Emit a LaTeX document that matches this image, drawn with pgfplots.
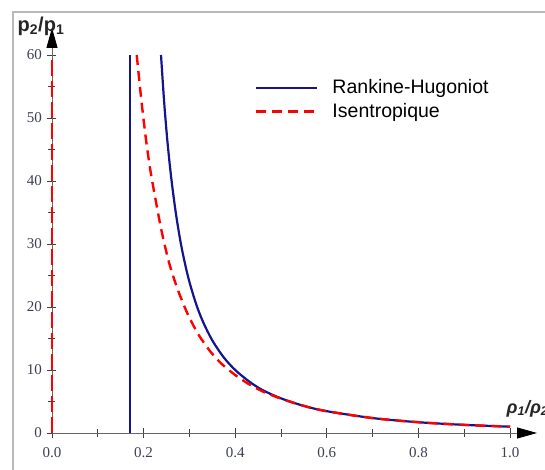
\documentclass[border=0pt]{standalone}
\usepackage{fontspec}
\setmainfont{Liberation Serif}
\setsansfont{Liberation Sans}
\usepackage{pgfplots}
\pgfplotsset{compat=1.18}
\usetikzlibrary{arrows.meta}
\definecolor{rhblue}{RGB}{20,20,140}
\definecolor{tickgray}{RGB}{60,64,80}

\begin{document}
\begin{tikzpicture}
  \draw[gray!55, line width=1.2pt] (-39pt,-80pt) rectangle (580pt,421pt);
  \begin{axis}[
      at={(0,0)}, anchor=origin,
      x=458pt, y=6.3pt,
      xmin=0, xmax=1.059,
      ymin=0, ymax=64.3,
      axis lines=middle,
      axis line style={draw=gray!80!black, line width=0.8pt},
      x axis line style={-{Triangle[length=20pt,width=11pt,color=black]}},
      y axis line style={-{Triangle[length=20pt,width=11pt,color=black]}},
      hide obscured x ticks=false,
      hide obscured y ticks=false,
      xtick={0,0.2,0.4,0.6,0.8,1.0},
      minor xtick={0.1,0.3,0.5,0.7,0.9},
      ytick={0,10,20,30,40,50,60},
      minor ytick={5,15,25,35,45,55},
      tick align=center,
      major tick length=9pt,
      minor tick length=7pt,
      every tick/.style={black!75, line width=0.8pt},
      xticklabel style={/pgf/number format/.cd, fixed, fixed zerofill, precision=1, /tikz/.cd, yshift=-6pt},
      yticklabel style={xshift=-2pt},
      /pgf/number format/assume math mode=true,
      tick label style={font=\fontsize{15}{17}\selectfont, text=tickgray},
      clip=false,
      legend style={at={(axis cs:0.443,56.4)}, anchor=north west, draw=none, fill=none,
        inner sep=0pt, font=\sffamily\fontsize{19.5}{22}\selectfont, row sep=4pt,
        /tikz/every odd column/.append style={column sep=12pt}},
      legend cell align=left,
      legend image code/.code={\draw[#1] (0pt,0pt) -- (61pt,0pt);},
    ]
    \addplot[rhblue, line width=2.2pt, smooth, tension=0.5] coordinates {
      (0.238,60) (0.245,52.4) (0.252,46.3) (0.26,40.7) (0.27,35.1) (0.28,30.6)
      (0.29,27.0) (0.30,24.0) (0.315,20.4) (0.33,17.6) (0.35,14.7) (0.375,12.0)
      (0.40,10.0) (0.43,8.2) (0.46,6.8) (0.50,5.5) (0.55,4.3) (0.60,3.46)
      (0.70,2.37) (0.80,1.71) (0.90,1.29) (1.0,1.0)
    };
    \addlegendentry{Rankine-Hugoniot}
    \addplot[red, line width=2.4pt, dash pattern=on 10pt off 6pt, smooth, tension=0.5] coordinates {
      (0.185,60) (0.195,52.9) (0.205,46.7) (0.215,41.6) (0.228,36.3) (0.24,31.8)
      (0.255,27.2) (0.27,23.7) (0.285,20.8) (0.30,18.3) (0.32,15.6) (0.345,13.0)
      (0.37,11.0) (0.40,9.2) (0.43,7.75) (0.46,6.6) (0.50,5.45) (0.55,4.3)
      (0.60,3.46) (0.70,2.37) (0.80,1.71) (0.90,1.29) (1.0,1.0)
    };
    \addlegendentry{Isentropique}
    \addplot[rhblue, line width=2.4pt, forget plot] coordinates {(0.170,0) (0.170,60)};
    \addplot[red, line width=2.4pt, dash pattern=on 16pt off 5pt, forget plot] coordinates {(0,0) (0,60)};
    \node[font=\sffamily\bfseries\fontsize{20}{22}\selectfont, text=black!85] at (axis cs:-0.024,64.6) {p\textsubscript{2}/p\textsubscript{1}};
    \node[font=\sffamily\bfseries\itshape\fontsize{18}{20}\selectfont, text=black!85, anchor=west] at (axis cs:0.985,3.9) {ρ\textsubscript{1}/ρ\textsubscript{2}};
  \end{axis}
  \pgfresetboundingbox
  \useasboundingbox (-52pt,-37pt) rectangle (493pt,433pt);
\end{tikzpicture}
\end{document}
